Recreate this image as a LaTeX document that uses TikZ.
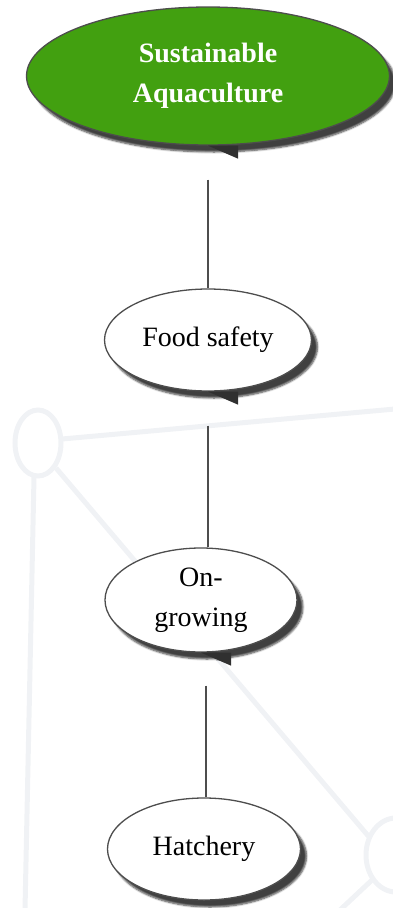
\documentclass[tikz,border=0pt]{standalone}
\usepackage{fontspec}
\setmainfont{Liberation Serif}
\usetikzlibrary{shapes.geometric,shadows.blur}

\definecolor{leafgreen}{HTML}{42A010}
\definecolor{rimgray}{HTML}{4D4D4D}
\definecolor{tailgray}{HTML}{303030}
\definecolor{netgray}{HTML}{F0F2F5}

\tikzset{
	bubble/.style={ellipse, draw=rimgray, line width=1.3pt, fill=white, inner sep=0pt,
		align=center, font=\fontsize{28}{40}\selectfont,
		blur shadow={shadow xshift=6pt, shadow yshift=-7pt, shadow blur steps=6, shadow opacity=75}},
	rootbubble/.style={bubble, fill=leafgreen, text=white, font=\fontsize{28}{40}\selectfont\bfseries},
	link/.style={draw=rimgray, line width=1.2pt},
	netline/.style={draw=netgray, line width=5pt}
}

\newcommand{\tail}[1]{\fill[tailgray] (#1.south) -- ++(30,0) -- ++(0,13) -- cycle;}

\begin{document}
\begin{tikzpicture}[x=1pt,y=-1pt]
	\useasboundingbox (0,0) rectangle (392,908);

	% faint network behind
	\draw[netline] (38,443) ellipse [x radius=23, y radius=33];
	\draw[netline] (62,439) -- (395,409);
	\draw[netline] (34,477) -- (25,910);
	\draw[netline] (56,468) -- (370,838);
	\draw[netline] (396,855) ellipse [x radius=30, y radius=37];
	\draw[netline] (372,880) -- (340,910);

	\node[rootbubble, minimum width=363pt, minimum height=138pt] (sa) at (208,76) {Sustainable\\Aquaculture};
	\tail{sa}

	\node[bubble, minimum width=207pt, minimum height=102pt] (food) at (208,340) {Food safety};
	\tail{food}

	\node[bubble, minimum width=192pt, minimum height=104pt] (grow) at (201,600) {On-\\growing};
	\tail{grow}

	\node[bubble, minimum width=193pt, minimum height=102pt] (hatch) at (204,849) {Hatchery};

	\draw[link] ([yshift=-34pt]sa.south) -- (sa.south |- food.north);
	\draw[link] ([yshift=-34pt]food.south) -- (food.south |- grow.north);
	\draw[link] ([shift={(5pt,-33pt)}]grow.south) -- ([xshift=5pt]grow.south |- hatch.north);
\end{tikzpicture}
\end{document}
